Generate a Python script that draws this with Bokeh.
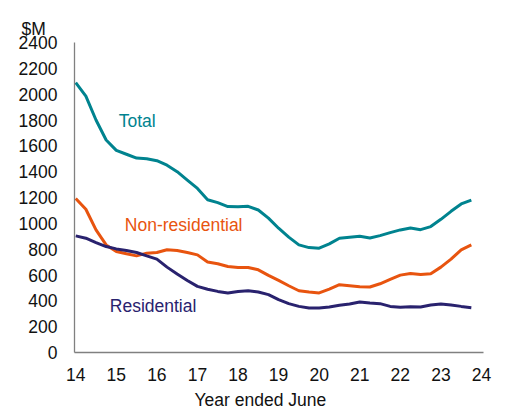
from bokeh.plotting import figure
from bokeh.models import Range1d, FixedTicker, Label, Title
from bokeh.embed import file_html
from bokeh.resources import INLINE

# quarterly data, 14.00 .. 23.75 (year ended June)
total = [2090, 1985, 1800, 1645, 1565, 1535, 1505, 1500, 1485, 1450,
         1400, 1335, 1270, 1183, 1160, 1130, 1128, 1132, 1103, 1040,
         962, 893, 833, 812, 808, 841, 885, 893, 900, 887,
         905, 928, 949, 964, 951, 975, 1031, 1093, 1150, 1180]
non_residential = [1192, 1109, 949, 833, 782, 764, 748, 769, 774, 795,
                   789, 774, 756, 700, 687, 666, 658, 658, 640, 597,
                   558, 517, 478, 468, 461, 491, 525, 517, 509, 507,
                   532, 566, 599, 612, 604, 610, 661, 723, 795, 833]
residential = [903, 885, 851, 820, 802, 789, 774, 748, 723, 661,
               607, 558, 512, 490, 473, 461, 473, 478, 468, 448,
               409, 378, 357, 345, 345, 353, 365, 376, 391, 383,
               378, 357, 350, 355, 353, 368, 376, 368, 357, 347]
years = [14 + i / 4 for i in range(len(total))]

x_ticks = [14, 15, 16, 17, 18, 19, 20, 21, 22, 23, 24]
y_ticks = [0, 200, 400, 600, 800, 1000, 1200, 1400, 1600, 1800, 2000, 2200, 2400]

TEAL = "#00838F"
ORANGE = "#E8540F"
NAVY = "#29226E"
FONT = "Liberation Sans"
FS = "17.5px"

p = figure(width=499, height=413, output_backend="svg", toolbar_location=None,
           x_range=Range1d(13.97, 24.05), y_range=Range1d(0, 2400),
           min_border_left=74, min_border_right=16, min_border_top=42,
           min_border_bottom=60)
p.outline_line_color = None
p.xgrid.visible = False
p.ygrid.visible = False

p.line(years, total, line_color=TEAL, line_width=3)
p.line(years, non_residential, line_color=ORANGE, line_width=3)
p.line(years, residential, line_color=NAVY, line_width=3)

for ax in (p.xaxis[0], p.yaxis[0]):
    ax.axis_line_color = "#808080"
    ax.axis_line_width = 1.3
    ax.major_tick_line_color = None
    ax.minor_tick_line_color = None
    ax.major_tick_out = 0
    ax.major_tick_in = 0
    ax.major_label_text_font = FONT
    ax.major_label_text_font_size = FS
    ax.major_label_text_color = "#111111"

p.xaxis.ticker = FixedTicker(ticks=x_ticks)
p.yaxis.ticker = FixedTicker(ticks=y_ticks)
p.xaxis.major_label_standoff = 15
p.yaxis.major_label_standoff = 17

def lab(x, y, t, c):
    p.add_layout(Label(x=x, y=y, text=t, text_color=c, text_font=FONT,
                       text_font_size=FS, text_align="left",
                       text_baseline="middle"))

lab(15.06, 1790, "Total", TEAL)
lab(15.21, 988, "Non-residential", ORANGE)
lab(14.84, 363, "Residential", NAVY)

p.add_layout(Title(text="Year ended June", align="left", offset=120,
                   standoff=8, text_font=FONT, text_font_size=FS,
                   text_font_style="normal", text_color="#111111"), "below")
p.add_layout(Title(text="$M", align="left", offset=-53, standoff=8,
                   text_line_height=0.9,
                   text_font=FONT, text_font_size=FS,
                   text_font_style="normal", text_color="#111111"), "above")

open("out.html", "w").write(file_html(p, INLINE))
